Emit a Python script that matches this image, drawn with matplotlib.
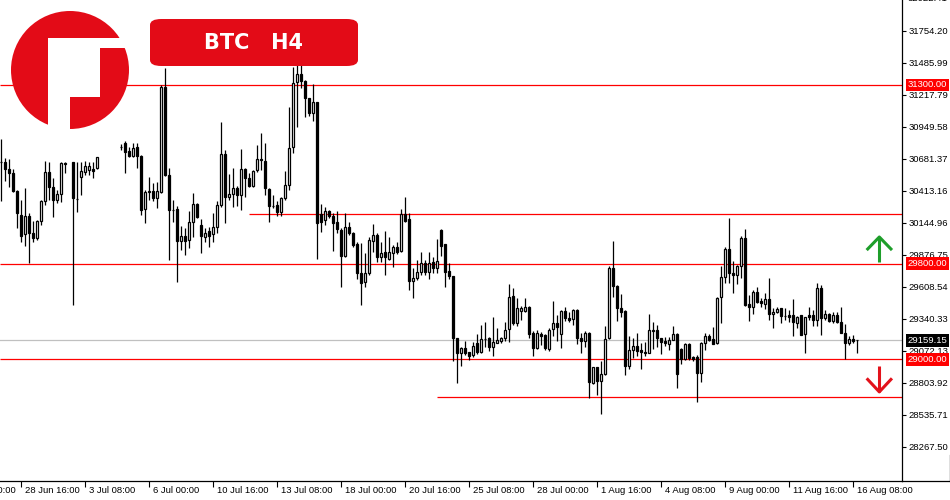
import numpy as np
import matplotlib
matplotlib.use("Agg")
import matplotlib.pyplot as plt
from matplotlib.patches import FancyBboxPatch, Circle, Rectangle, Polygon

nan = np.nan
# ---- data (H4 candles, one slot per bar index) ----
opens = [30655,30650,30593,30559,30413,30210,30048,30201,30056,30020,30162,30327,30570,30447,30335,30386,30646,nan,30651,30345,
         30531,30573,30587,30595,30601,nan,nan,nan,nan,nan,30780,30811,30746,30707,30777,30704,30258,30405,30411,30355,
         30405,31285,30545,30252,30260,29994,30034,30000,30149,30302,30126,30028,30076,30048,30107,30294,30718,30363,30383,30439,
         30377,30593,30517,30453,30587,30677,30662,30428,30287,30294,30237,30354,30461,30777,31327,31391,31335,31188,31062,31154,
         30216,30168,30243,30204,30149,30084,29869,30107,30061,29967,29721,29651,29721,29994,30042,29860,29897,29841,29894,29939,
         29911,30216,30176,29659,29684,29730,29805,29730,29818,29768,30084,29967,29740,29698,29176,29056,29093,29059,29034,29135,
         29064,29170,29176,29106,29139,29156,29176,29252,29531,29302,29408,29408,29436,29218,29093,29210,29204,29089,29252,29302,
         29210,29405,29349,29336,29414,29176,29154,29223,28804,28933,28821,28875,29176,29763,29615,29433,29405,28947,29080,29112,
         29080,29064,29056,29238,29246,29176,29154,29126,29162,29213,29084,29000,29126,29017,29017,28883,29140,29198,29168,29134,
         29520,29693,29922,29726,29707,29782,30015,29464,29441,29567,29492,29464,29503,29378,29394,29427,29363,29369,29369,29302,
         29369,29210,29369,29369,29330,29596,29349,29378,29324,29369,29310,29223,29140,29168,29160]
highs = [30844,30685,30677,30593,30420,30335,30433,30229,30162,30168,30335,30662,30654,30522,30419,30651,30650,nan,30655,30651,
         30651,30662,30651,30651,30698,nan,nan,nan,nan,nan,30802,30830,30782,30816,30816,30713,30419,30531,30475,30489,
         31299,31439,30601,30335,30287,30118,30098,30243,30392,30313,30174,30098,30112,30224,30327,30992,30754,30551,30601,30453,
         30760,30606,30559,30587,30796,30894,30816,30433,30377,30327,30363,30578,31117,31453,31540,31540,31341,31193,31308,31160,
         30302,30279,30252,30224,30246,30098,30224,30154,30070,29986,29973,29889,30023,30134,30056,29986,30078,30023,29958,29986,
         30260,30363,30224,29763,29833,29897,29833,29897,29860,30006,30090,29970,29810,29700,29180,29106,29154,29064,29148,29210,
         29288,29310,29190,29352,29260,29190,29316,29632,29596,29512,29447,29512,29447,29238,29246,29232,29210,29260,29489,29372,
         29414,29441,29400,29420,29420,29223,29238,29232,28938,28938,28988,29280,29782,29992,29620,29548,29414,29196,29181,29218,
         29140,29143,29380,29316,29288,29181,29190,29190,29280,29218,29098,29134,29134,29028,29036,29148,29218,29212,29274,29520,
         29782,29944,30182,29824,29791,30034,30093,29539,29581,29604,29512,29554,29679,29433,29441,29433,29428,29414,29503,29363,
         29372,29358,29436,29414,29642,29623,29414,29391,29400,29395,29436,29296,29196,29204,29162]
lows = [30330,30497,30447,30405,30098,29986,29952,29805,29986,30000,30126,30294,30335,30196,30313,30321,30562,nan,29456,30237,
        30377,30545,30545,30517,30593,nan,nan,nan,nan,nan,30754,30564,30698,30693,30601,30210,30145,30335,30327,30266,
        30392,30540,29833,30154,29651,29916,29874,29930,30028,30182,29893,29986,29944,29986,30056,30279,30140,30335,30279,30285,
        30252,30363,30447,30447,30573,30587,30377,30154,30266,30201,30201,30335,30419,30732,30950,31271,31028,31039,31000,29841,
        30070,30126,30182,29910,30056,29609,29860,30042,29944,29673,29456,29609,29707,29902,29818,29818,29707,29833,29777,29883,
        29902,30149,29581,29517,29665,29707,29707,29673,29726,29726,29869,29609,29673,28986,28804,28947,29036,28994,29022,29045,
        29050,29106,29073,29028,29134,29134,29156,29148,29288,29280,29330,29399,29176,29028,29084,29120,29080,29073,29196,29154,
        29098,29322,29316,29288,29126,29050,29106,28673,28794,28701,28542,28869,29168,29525,29322,29357,28869,28917,29009,29028,
        28917,29028,29050,29084,29101,29045,29112,29080,29160,28757,28961,28994,28994,28989,28645,28812,29080,29154,29128,29126,
        29305,29642,29642,29558,29632,29684,29450,29322,29380,29475,29441,29422,29330,29265,29386,29302,29330,29316,29198,29265,
        29200,29050,29330,29279,29280,29204,29330,29316,29302,29302,29218,29003,29120,29134,29056]
closes = [30650,30593,30559,30413,30224,30036,30201,30056,30020,30162,30327,30570,30447,30335,30386,30646,30637,nan,30350,30341,
          30578,30620,30620,30581,30693,nan,nan,nan,nan,nan,30778,30740,30707,30774,30707,30252,30400,30411,30355,30411,
          31285,30545,30252,30250,29994,30034,29994,30149,30299,30196,30036,30061,30036,30107,30294,30718,30363,30386,30439,30377,
          30593,30517,30453,30578,30677,30671,30433,30287,30285,30237,30350,30459,30769,31313,31391,31335,31188,31067,31154,30140,
          30154,30243,30204,30145,30090,29869,30107,30061,29958,29726,29642,29721,30000,30042,29860,29889,29855,29902,29939,29902,
          30216,30160,29659,29679,29730,29805,29730,29810,29768,29824,29953,29735,29701,29176,29056,29098,29056,29030,29114,29059,
          29170,29172,29101,29143,29162,29176,29246,29520,29302,29428,29428,29436,29213,29093,29218,29196,29093,29246,29302,29274,
          29405,29349,29330,29414,29176,29156,29223,28812,28933,28821,28875,29168,29763,29615,29433,29400,28947,29080,29112,29073,
          29064,29050,29246,29246,29176,29148,29134,29162,29212,28875,29000,29126,29009,29003,28883,29140,29198,29162,29128,29512,
          29688,29922,29721,29707,29782,30015,29456,29441,29567,29483,29470,29503,29378,29394,29422,29363,29361,29357,29310,29352,
          29204,29352,29357,29330,29596,29344,29378,29322,29369,29316,29223,29140,29168,29156,29159.15]

# time axis labels (every 16th bar) and the bar index of the first one
time_labels = ["26 Jun 00:00", "28 Jun 16:00", "3 Jul 08:00", "6 Jul 00:00", "10 Jul 16:00", "13 Jul 08:00",
               "18 Jul 00:00", "20 Jul 16:00", "25 Jul 08:00", "28 Jul 00:00", "1 Aug 16:00",
               "4 Aug 08:00", "9 Aug 00:00", "11 Aug 16:00", "16 Aug 08:00"]
first_label_bar = -11
label_step = 16

# price axis ticks
price_ticks = [32022.41, 31754.20, 31485.99, 31217.79, 30949.58, 30681.37, 30413.16, 30144.96,
               29876.75, 29608.54, 29340.33, 29072.13, 28803.92, 28535.71, 28267.50]

# horizontal levels: (price, start bar, labelled)
levels = [(31300.0, None, True), (30218.0, 61.9, False), (29800.0, None, True),
          (29000.0, None, True), (28684.0, 108.9, False)]
last_price = 29159.15
up_arrow = (30025, 29816)     # price span of the green arrow
down_arrow = (28944, 28727)   # price span of the red arrow
arrow_bar = 219.5

RED = "#ff0000"
LOGO_RED = "#e30b17"
FONT = "Liberation Sans"

W, H = 950, 500
fig = plt.figure(figsize=(W / 100, H / 100), dpi=100)
ax = fig.add_axes([0, 19 / H, 902 / W, 481 / H])
n = len(opens)
x = np.arange(n)
ax.set_xlim(-0.333, 225.17)
ax.set_ylim(27980.0, 32011.5)

o = np.array(opens, float); c = np.array(closes, float)
hi = np.array(highs, float); lo = np.array(lows, float)
ok = ~np.isnan(o)
ax.vlines(x[ok], lo[ok], hi[ok], color="black", lw=0.9, zorder=2)
up = ok & (c >= o)
dn = ok & (c < o)
ax.bar(x[up], (c - o)[up], bottom=o[up], width=0.55, color="white", edgecolor="black", lw=0.9, zorder=3)
ax.bar(x[dn], (o - c)[dn], bottom=c[dn], width=0.55, color="black", edgecolor="black", lw=0.9, zorder=3)

# levels
for price, start, lab in levels:
    xs = -0.333 if start is None else start
    ax.plot([xs, 225.17], [price, price], color=RED, lw=0.9, zorder=1, solid_capstyle="butt")
ax.axhline(last_price, color="#c0c0c0", lw=0.9, zorder=1)

# spines
for s in ["left", "top"]:
    ax.spines[s].set_visible(False)
ax.spines["right"].set_linewidth(0.9)
ax.spines["bottom"].set_linewidth(0.9)

ax.yaxis.tick_right()
ax.set_yticks(price_ticks[1:])
ax.set_yticklabels([f"{p:.2f}" for p in price_ticks[1:]], fontfamily=FONT)
ax.tick_params(axis="y", direction="out", length=3, width=0.8, labelsize=6.8, pad=1.5)
ax.annotate(f"{price_ticks[0]:.2f}", xy=(1.0, price_ticks[0]), xycoords=("axes fraction", "data"),
            xytext=(4.2, 0), textcoords="offset points", fontsize=6.8, family=FONT,
            va="center", ha="left", annotation_clip=False)

tick_bars = [first_label_bar + label_step * i for i in range(len(time_labels))]
vis = [b for b in tick_bars if b >= 0]
ax.set_xticks(vis)
ax.set_xticklabels([])
ax.tick_params(axis="x", direction="out", length=4, width=0.8)
for b, l in zip(tick_bars, time_labels):
    ax.annotate(l, xy=(b, 0), xycoords=("data", "axes fraction"), xytext=(2.5, -3.5),
                textcoords="offset points", fontsize=6.8, family=FONT, ha="left", va="top",
                annotation_clip=False)

# price boxes on the right axis
def price_box(price, fc):
    ax.annotate(f"{price:.2f}", xy=(1.0, price), xycoords=("axes fraction", "data"),
                xytext=(4.2, 0), textcoords="offset points", fontsize=6.8, family=FONT, color="white",
                va="center", ha="left", annotation_clip=False, zorder=10,
                bbox=dict(boxstyle="square,pad=0.2", fc=fc, ec="none"))
for price, start, lab in levels:
    if lab:
        price_box(price, RED)
price_box(last_price, "black")

# arrows
def arrow(p_tail, p_head, col):
    ax.plot([arrow_bar, arrow_bar], [p_tail, p_head], color=col, lw=2.2, zorder=5, solid_capstyle="butt")
    d = (p_head - p_tail) * 0.48
    ax.plot([arrow_bar - 2.9, arrow_bar, arrow_bar + 2.9], [p_head - d, p_head, p_head - d],
            color=col, lw=2.2, zorder=5)
arrow(up_arrow[1], up_arrow[0], "#1e9e2a")
arrow(down_arrow[0], down_arrow[1], "#e3121b")

# title box
def fx(px): return px / W
def fy(py): return 1 - py / H
box = FancyBboxPatch((fx(150), fy(66)), fx(208), 47 / H, boxstyle="round,pad=0,rounding_size=0.012",
                     transform=fig.transFigure, fc=LOGO_RED, ec="none", zorder=20)
fig.patches.append(box)
fig.text(fx(254), fy(43), "BTC   H4", color="white", fontsize=15, fontweight="bold",
         ha="center", va="center", zorder=21)

# overlay in pixel coordinates: logo and outer frame
lax = fig.add_axes([0, 0, 1, 1], zorder=30)
lax.set_xlim(0, W); lax.set_ylim(H, 0); lax.axis("off")
lax.add_patch(Circle((70, 70), 59, fc=LOGO_RED, ec="none"))
lax.add_patch(Rectangle((48, 48), 22, 90, fc="white", ec="none"))
lax.add_patch(Rectangle((70, 48), 30, 49, fc="white", ec="none"))
lax.add_patch(Rectangle((48, 38), 90, 10, fc="white", ec="none"))
lax.plot([902, 950], [481, 481], color="black", lw=0.9)
lax.plot([949.5, 949.5], [455, 481], color="black", lw=0.9)

fig.savefig("out.png", dpi=100)
